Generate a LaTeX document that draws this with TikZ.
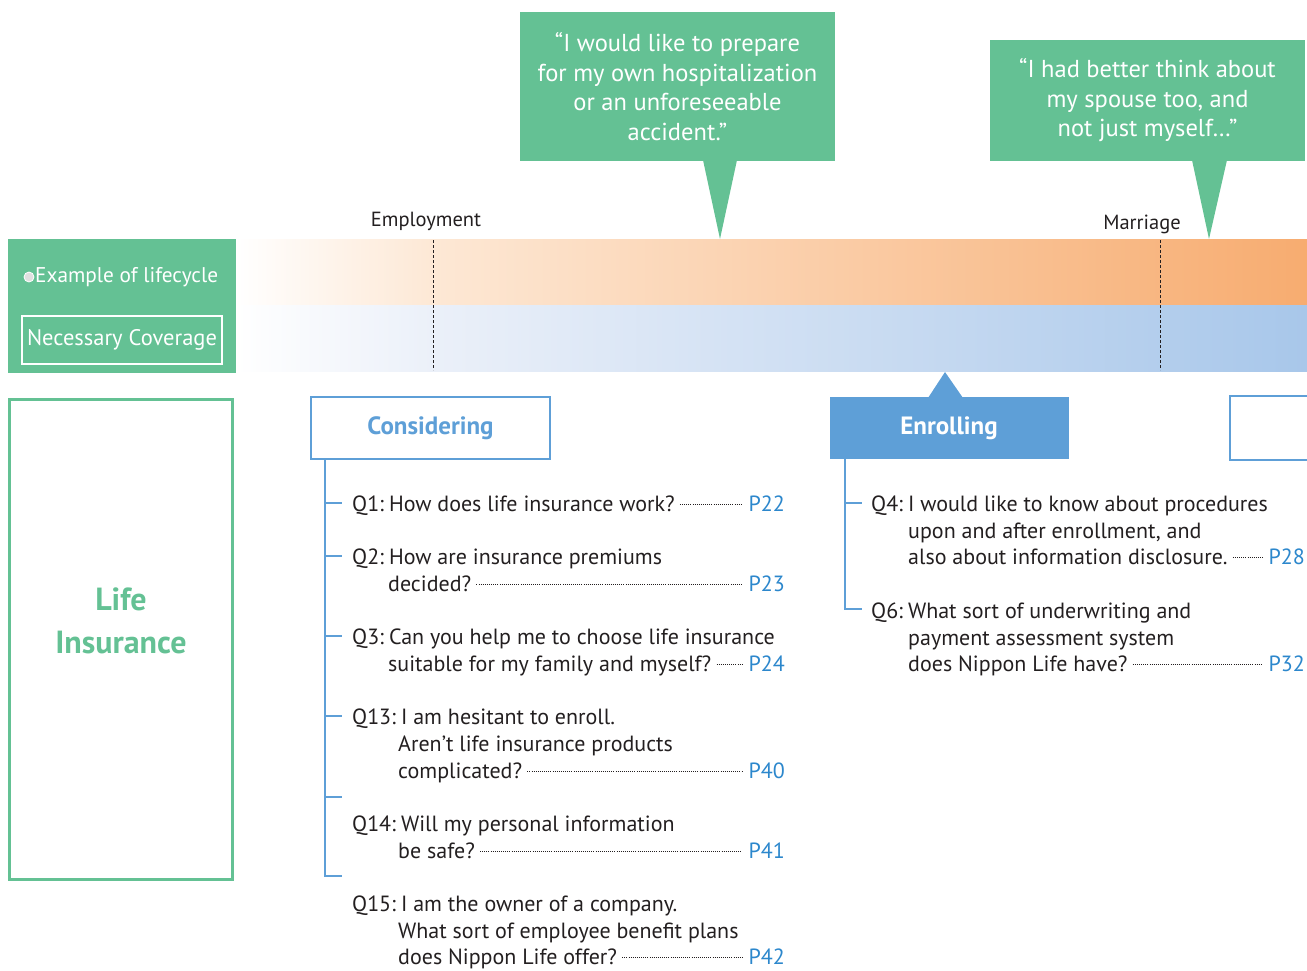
\documentclass[tikz,border=0pt]{standalone}
\usepackage{fontspec}
\setmainfont{PT Sans}
\usetikzlibrary{positioning}
\definecolor{lgreen}{HTML}{64C194}
\definecolor{cblue}{HTML}{5E9FD7}
\definecolor{pblue}{HTML}{2C87CC}
\definecolor{txt}{HTML}{231F20}
\definecolor{orng}{HTML}{F7AC70}
\definecolor{peach}{HTML}{FDE8D5}
\definecolor{bandblue}{HTML}{A8C7EA}
\definecolor{paleblue}{HTML}{EBF0F9}

\begin{document}
\begin{tikzpicture}[x=1pt,y=-1pt,
    q/.style={anchor=base west,inner sep=0pt,text=txt,font=\fontsize{22}{26}\selectfont},
    pg/.style={anchor=base east,inner sep=0pt,text=pblue,font=\fontsize{22}{26}\selectfont},
    lead/.style={txt,line width=0.7pt,dash pattern=on 0.7pt off 1.4pt},
    brk/.style={cblue,line width=1.5pt},
    bubble/.style={fill=lgreen,text=white,align=center,inner sep=0pt,font=\fontsize{24.5}{29.5}\selectfont},
    event/.style={text=txt,inner sep=0pt,font=\fontsize{20.5}{24}\selectfont},
    stage/.style={minimum width=239pt,minimum height=62pt,inner sep=0pt,font=\fontsize{25}{28}\selectfont\bfseries}]
  \useasboundingbox (0,0) rectangle (1307,970);

  \shade[left color=white,right color=peach] (236,239) rectangle (433,305);
  \shade[left color=peach,right color=orng] (433,239) rectangle (1307,305);
  \shade[left color=white,right color=paleblue] (236,305) rectangle (433,371);
  \shade[left color=paleblue,right color=bandblue] (433,305) rectangle (1307,371);

  \fill[lgreen] (8,239) rectangle (236,373);
  \filldraw[fill=black!12,draw=white,line width=0.8pt] (29,277) circle (5);
  \node[anchor=west,inner sep=0pt,text=white,font=\fontsize{21.3}{24}\selectfont] (life) at (35,277) {Example of lifecycle};
  \node[draw=white,line width=2.5pt,minimum width=200pt,minimum height=48pt,inner sep=0pt,text=white,font=\fontsize{22.5}{24}\selectfont] (need) at (122,340) {Necessary Coverage};

  \node[event] (emp) at (426,221) {Employment};
  \node[event] (mar) at (1142,224) {Marriage};
  \coordinate (e1) at (433,240);
  \coordinate (e2) at (433,370);
  \coordinate (m1) at (1160,240);
  \coordinate (m2) at (1160,370);
  \draw[txt,line width=1pt,dash pattern=on 3pt off 2pt] (e1) -- (e2);
  \draw[txt,line width=1pt,dash pattern=on 3pt off 2pt] (m1) -- (m2);

  \node[bubble,minimum width=315pt,minimum height=149pt] (b1) at (677.5,86.5) {“I would like to prepare\\for my own hospitalization\\or an unforeseeable\\accident.”};
  \fill[lgreen] (703,160) -- (720,239) -- (737,160) -- cycle;
  \node[bubble,minimum width=315pt,minimum height=121pt] (b2) at (1147.5,100.5) {“I had better think about\\my spouse too, and\\not just myself…”};
  \fill[lgreen] (1192,160) -- (1209,239) -- (1227,160) -- cycle;

  \draw[lgreen,line width=3pt] (9.5,399.5) rectangle (232.5,879.5);
  \node[text=lgreen,align=center,font=\fontsize{32}{43}\selectfont\bfseries] (ins) at (121,621) {Life\\Insurance};

  \node[stage,draw=cblue,line width=2pt,text=cblue] (cons) at (430.5,428) {Considering};
  \fill[cblue] (928,398) -- (945,372) -- (963,398) -- cycle;
  \node[stage,fill=cblue,text=white] (enr) at (949,428) {Enrolling};
  \draw[cblue,line width=2pt] (1315,396) -- (1230,396) -- (1230,460) -- (1315,460);

  \draw[brk] (325,459) -- (325,876) -- (342,876);
  \foreach \y in {503,556,636,716,797}
    \draw[brk] (325,\y) -- (342,\y);
  \draw[brk] (845,459) -- (845,609) -- (862,609);
  \draw[brk] (845,503) -- (862,503);

  \node[q] (q1) at (352,511) {Q1:\hspace{5pt}How does life insurance work?};
  \node[pg] (p22) at (785,511) {P22};
  \node[q] (q2) at (352,564) {Q2:\hspace{5pt}How are insurance premiums};
  \node[q] (q2b) at (388,591) {decided?};
  \node[pg] (p23) at (785,591) {P23};
  \node[q] (q3) at (352,644) {Q3:\hspace{5pt}Can you help me to choose life insurance};
  \node[q] (q3b) at (388,671) {suitable for my family and myself?};
  \node[pg] (p24) at (785,671) {P24};
  \node[q] (q13) at (352,724) {Q13:\hspace{5pt}I am hesitant to enroll.};
  \node[q] (q13b) at (398,751) {Aren’t life insurance products};
  \node[q] (q13c) at (398,778) {complicated?};
  \node[pg] (p40) at (785,778) {P40};
  \node[q] (q14) at (352,831) {Q14:\hspace{5pt}Will my personal information};
  \node[q] (q14b) at (398,858) {be safe?};
  \node[pg] (p41) at (785,858) {P41};
  \node[q] (q15) at (352,911) {Q15:\hspace{5pt}I am the owner of a company.};
  \node[q] (q15b) at (398,938) {What sort of employee benefit plans};
  \node[q] (q15c) at (398,964) {does Nippon Life offer?};
  \node[pg] (p42) at (785,964) {P42};

  \node[q] (q4) at (871,511) {Q4:\hspace{5pt}I would like to know about procedures};
  \node[q] (q4b) at (908,538) {upon and after enrollment, and};
  \node[q] (q4c) at (908,564) {also about information disclosure.};
  \node[pg] (p28) at (1305,564) {P28};
  \node[q] (q6) at (871,618) {Q6:\hspace{5pt}What sort of underwriting and};
  \node[q] (q6b) at (908,645) {payment assessment system};
  \node[q] (q6c) at (908,671) {does Nippon Life have?};
  \node[pg] (p32) at (1305,671) {P32};

  \foreach \a/\b in {q1/p22,q2b/p23,q3b/p24,q13c/p40,q14b/p41,q15c/p42,q4c/p28,q6c/p32}
    \draw[lead] ([xshift=5pt,yshift=7pt]\a.base east) -- ([xshift=-6pt,yshift=7pt]\b.base west);
\end{tikzpicture}
\end{document}
